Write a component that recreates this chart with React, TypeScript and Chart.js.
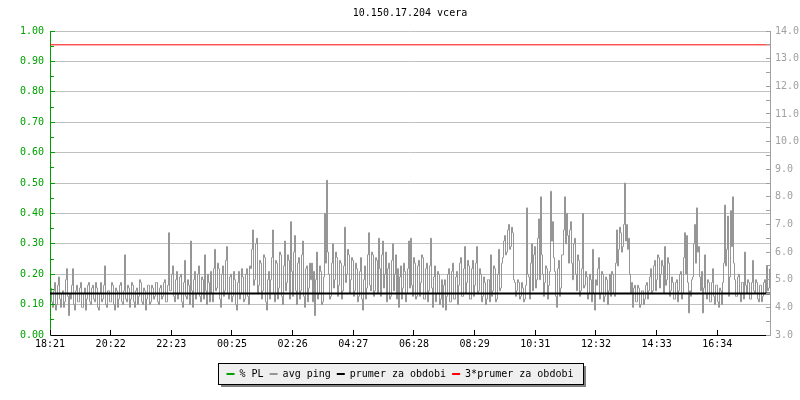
import React, { useEffect, useRef } from 'react';
import { Chart, registerables } from 'chart.js';

Chart.register(...registerables);

const MONO = '"DejaVu Sans Mono", monospace';
const GREEN = '#00a000';
const GREY = '#a0a0a0';
const GRID = '#c0c0c0';

const chartTitle = '10.150.17.204 vcera';
const timeLabels = ['18:21', '20:22', '22:23', '00:25', '02:26', '04:27', '06:28', '08:29', '10:31', '12:32', '14:33', '16:34'];
const tickStepMinutes = 121.33;
const spanMinutes = 1440;
const sampleMinutes = 2;
const seriesNames = ['% PL', 'avg ping', 'prumer za obdobi', '3*prumer za obdobi'];
const seriesColors = ['#00a000', '#969696', '#000000', '#ff0000'];

// avg ping (ms), one value every 2 minutes from 18:21
const pingValues = [
  4.7, 4.2, 4.0, 4.6, 4.9, 3.9, 4.1, 4.8, 5.1, 4.3, 4.0, 4.5, 4.6, 4.0, 4.2, 5.0, 5.4, 4.4, 3.7, 4.5,
  4.3, 4.8, 5.4, 4.1, 3.9, 4.6, 4.8, 4.2, 4.2, 4.7, 4.9, 4.0, 4.0, 4.5, 4.7, 3.9, 4.3, 4.8, 4.9, 4.2,
  4.1, 4.7, 4.8, 4.3, 4.2, 4.9, 4.7, 4.0, 3.9, 4.5, 4.9, 4.2, 4.3, 4.8, 5.5, 4.1, 4.0, 4.6, 4.6, 4.2,
  4.2, 4.9, 4.8, 4.1, 3.9, 4.7, 4.6, 4.0, 4.3, 4.8, 4.9, 4.2, 4.1, 4.6, 5.9, 4.3, 4.2, 4.8, 4.7, 4.0,
  4.3, 4.9, 4.8, 4.2, 4.0, 4.6, 4.7, 4.1, 4.4, 5.0, 4.9, 4.2, 4.1, 4.7, 4.6, 3.9, 4.3, 4.8, 4.8, 4.1,
  4.2, 4.8, 4.7, 4.3, 4.4, 4.9, 4.9, 4.2, 4.1, 4.7, 4.8, 4.3, 4.4, 4.9, 5.0, 4.2, 4.2, 4.8, 6.7, 4.6,
  4.6, 5.2, 5.5, 4.4, 4.2, 5.0, 5.3, 4.3, 4.5, 5.1, 5.2, 4.2, 4.0, 4.9, 5.7, 4.4, 4.3, 5.0, 4.8, 4.1,
  6.4, 4.6, 4.0, 5.0, 5.3, 4.3, 4.5, 5.2, 5.5, 4.4, 4.2, 5.1, 5.0, 4.3, 5.9, 4.6, 4.1, 5.2, 4.9, 4.2,
  5.3, 4.5, 4.2, 5.4, 6.1, 4.6, 4.7, 5.6, 5.4, 4.3, 4.0, 5.2, 5.5, 4.4, 4.6, 5.7, 6.2, 4.5, 4.3, 5.1,
  5.2, 4.2, 4.4, 5.3, 5.0, 4.1, 3.9, 4.9, 5.3, 4.3, 4.5, 5.4, 5.1, 4.2, 4.3, 5.2, 5.4, 4.4, 4.1, 5.5,
  5.4, 6.1, 6.8, 4.8, 5.0, 6.3, 6.5, 4.5, 4.8, 5.7, 5.6, 4.3, 4.6, 5.9, 5.8, 4.2, 3.9, 5.0, 5.3, 4.3,
  5.0, 5.8, 6.8, 4.5, 4.2, 5.7, 5.6, 4.3, 4.7, 6.0, 5.9, 4.4, 4.1, 5.5, 6.4, 4.6, 4.9, 5.9, 5.7, 4.3,
  7.1, 5.3, 4.4, 6.0, 6.6, 4.6, 4.1, 5.6, 5.8, 4.3, 4.6, 5.9, 6.4, 4.4, 4.0, 5.4, 5.5, 4.2, 4.7, 5.6,
  5.0, 5.6, 4.2, 5.3, 3.7, 5.0, 6.0, 4.3, 4.5, 5.5, 5.3, 4.1, 4.2, 5.1, 7.4, 5.6, 8.6, 6.0, 5.2, 4.3,
  4.4, 5.6, 6.3, 4.7, 5.0, 6.0, 5.8, 4.4, 4.8, 5.7, 5.6, 4.3, 4.6, 5.5, 6.9, 4.9, 5.2, 6.1, 5.9, 4.5,
  5.0, 5.8, 5.7, 4.4, 4.6, 5.6, 5.4, 4.2, 4.4, 5.3, 5.8, 4.3, 3.9, 5.0, 5.5, 4.3, 4.7, 5.9, 6.7, 4.8,
  4.6, 6.0, 5.9, 4.4, 4.6, 5.8, 5.7, 4.5, 6.5, 5.4, 4.4, 5.9, 6.4, 4.7, 5.2, 6.0, 4.2, 5.4, 5.6, 4.3,
  4.4, 5.7, 6.3, 4.6, 5.2, 5.9, 4.3, 5.4, 4.0, 5.1, 5.5, 4.3, 4.7, 5.6, 5.3, 4.2, 4.5, 5.4, 6.4, 4.7,
  6.5, 4.8, 4.4, 5.8, 5.6, 4.3, 4.4, 5.5, 5.7, 4.4, 4.9, 5.9, 5.8, 4.3, 4.3, 5.4, 5.6, 4.2, 4.6, 5.5,
  6.5, 4.7, 4.0, 5.1, 5.5, 4.2, 4.5, 5.3, 5.2, 4.1, 4.3, 5.0, 4.0, 4.8, 5.0, 3.9, 4.4, 5.2, 5.4, 4.2,
  4.2, 5.3, 5.6, 4.3, 4.3, 5.1, 5.3, 4.1, 4.8, 5.6, 5.8, 4.4, 4.4, 5.4, 6.2, 4.5, 4.9, 5.7, 5.5, 4.3,
  4.3, 5.4, 5.7, 4.4, 4.8, 5.6, 6.2, 4.5, 4.6, 5.4, 5.2, 4.2, 4.4, 5.1, 4.9, 4.1, 4.3, 5.0, 5.0, 4.2,
  5.9, 4.4, 4.6, 5.5, 5.4, 4.2, 4.3, 5.2, 6.1, 4.6, 4.7, 5.6, 5.8, 6.4, 6.6, 5.9, 6.0, 6.8, 7.0, 6.1,
  6.2, 6.9, 6.7, 5.0, 4.9, 4.4, 4.6, 5.0, 4.9, 4.3, 4.4, 4.9, 4.7, 4.2, 4.3, 4.8, 7.6, 5.2, 5.1, 4.3,
  5.6, 6.3, 4.6, 5.9, 6.2, 4.7, 5.0, 6.5, 7.2, 5.0, 8.0, 5.9, 5.2, 4.4, 4.9, 5.5, 5.4, 4.3, 4.8, 5.3,
  8.2, 6.4, 7.1, 5.8, 5.3, 4.4, 4.0, 5.4, 5.7, 4.4, 4.7, 5.9, 5.9, 6.8, 8.0, 6.3, 7.4, 6.6, 5.6, 6.8,
  7.1, 5.6, 5.0, 6.3, 6.5, 5.2, 4.6, 5.9, 5.7, 4.4, 4.6, 5.4, 7.4, 4.7, 4.8, 5.3, 5.1, 4.3, 4.5, 5.2,
  5.0, 4.2, 6.1, 4.5, 3.9, 5.0, 4.8, 5.4, 5.8, 4.3, 4.5, 5.3, 5.2, 4.2, 4.4, 5.1, 5.0, 4.1, 4.6, 5.2,
  4.4, 5.3, 5.2, 4.5, 4.4, 5.6, 6.8, 5.5, 6.1, 6.9, 6.7, 6.0, 6.2, 7.0, 8.5, 6.4, 7.0, 6.1, 6.5, 5.2,
  4.5, 4.9, 4.0, 4.7, 4.8, 4.2, 4.2, 4.8, 4.7, 4.0, 4.1, 4.6, 4.6, 4.1, 4.3, 4.8, 4.9, 4.3, 4.6, 5.1,
  5.4, 4.5, 4.6, 5.5, 5.7, 4.6, 5.0, 5.9, 5.8, 4.7, 5.2, 5.7, 5.5, 4.5, 6.2, 4.8, 5.0, 5.8, 5.6, 4.4,
  4.6, 5.1, 4.9, 4.3, 4.3, 4.9, 5.0, 4.2, 4.6, 5.2, 5.3, 4.3, 4.5, 5.8, 6.7, 5.2, 6.6, 4.9, 3.8, 4.6,
  4.4, 5.0, 5.1, 6.3, 7.0, 5.6, 7.6, 6.0, 6.2, 5.1, 4.6, 5.3, 3.8, 4.7, 5.9, 4.5, 4.3, 5.0, 4.9, 4.2,
  4.2, 4.9, 5.4, 4.4, 4.1, 4.8, 4.8, 4.2, 4.0, 4.7, 4.6, 4.1, 4.9, 5.6, 7.7, 5.5, 6.1, 7.3, 4.4, 5.1,
  7.5, 6.2, 8.0, 5.6, 5.0, 4.4, 4.4, 5.1, 5.2, 4.5, 4.2, 4.9, 4.9, 4.3, 6.0, 4.8, 4.5, 5.0, 4.9, 4.3,
  4.3, 4.9, 5.7, 4.6, 4.5, 5.0, 4.9, 4.3, 4.2, 4.8, 4.8, 4.2, 4.4, 4.9, 5.0, 4.5, 5.5, 4.6, 4.7, 5.4,
];
const plValues: number[] = [];
const meanValues = [4.5, 4.5];
const tripleMeanValues = [13.5, 13.5];
const plAxisRange = [0, 1];
const pingAxisRange = [3, 14];

const alignPx = (p: number) => Math.round(p - 0.5) + 0.5;

const axisMarks = {
  id: 'axisMarks',
  afterDatasetsDraw(chart: any) {
    const { ctx, chartArea } = chart;
    const { left, right, bottom } = chartArea;
    ctx.save();
    ctx.lineWidth = 1;
    const yl = chart.scales.y;
    ctx.strokeStyle = GREEN;
    ctx.beginPath();
    for (let k = 1; k <= 20; k++) {
      const y = alignPx(yl.getPixelForValue(k * 0.05));
      const len = k % 2 === 0 ? 5 : 4;
      ctx.moveTo(left, y);
      ctx.lineTo(left + len, y);
    }
    ctx.stroke();
    const yr = chart.scales.yPing;
    ctx.strokeStyle = GREY;
    ctx.beginPath();
    for (let v = pingAxisRange[0]; v <= pingAxisRange[1]; v += 0.5) {
      const y = alignPx(yr.getPixelForValue(v));
      ctx.moveTo(right - 4, y);
      ctx.lineTo(right, y);
    }
    ctx.stroke();
    const xs = chart.scales.x;
    ctx.strokeStyle = '#000';
    ctx.beginPath();
    timeLabels.forEach((_, k) => {
      const x = alignPx(xs.getPixelForValue(k * tickStepMinutes));
      ctx.moveTo(x, bottom);
      ctx.lineTo(x, bottom - 5);
    });
    ctx.stroke();
    ctx.restore();
  },
};

const legendFrame = {
  id: 'legendFrame',
  beforeDraw(chart: any) {
    const lg = chart.legend;
    if (!lg || !lg.legendHitBoxes || !lg.legendHitBoxes.length) return;
    const hb = lg.legendHitBoxes;
    const l = Math.round(Math.min(...hb.map((h: any) => h.left)) - 9);
    const r = Math.round(Math.max(...hb.map((h: any) => h.left + h.width)) + 10);
    const cy = hb[0].top + hb[0].height / 2;
    const t = Math.round(cy - 11);
    const b = Math.round(cy + 10);
    const { ctx } = chart;
    ctx.save();
    ctx.fillStyle = '#808080';
    ctx.fillRect(l + 3, t + 3, r - l, b - t);
    ctx.fillStyle = '#efefef';
    ctx.fillRect(l, t, r - l, b - t);
    ctx.strokeStyle = '#000';
    ctx.lineWidth = 1;
    ctx.strokeRect(l + 0.5, t + 0.5, r - l, b - t);
    ctx.restore();
  },
};

export default function App() {
  const canvasRef = useRef<HTMLCanvasElement | null>(null);

  useEffect(() => {
    if (!canvasRef.current) return;
    const font = { family: MONO, size: 10, weight: 'normal' as const };
    const tickPositions = timeLabels.map((_, k) => k * tickStepMinutes);
    const pingData = pingValues.map((v, i) => ({ x: (i + 0.5) * sampleMinutes, y: v }));
    const meanData = meanValues.map((v, i) => ({ x: i === 0 ? 0 : spanMinutes, y: v }));
    const tripleData = tripleMeanValues.map((v, i) => ({ x: i === 0 ? 0 : spanMinutes, y: v }));
    const plData = plValues.map((v, i) => ({ x: i * sampleMinutes, y: v }));

    const chart = new Chart(canvasRef.current, {
      type: 'line',
      data: {
        datasets: [
          { label: seriesNames[0], data: plData, yAxisID: 'y', borderColor: seriesColors[0], backgroundColor: seriesColors[0], borderWidth: 1, pointRadius: 0, order: 2 },
          { label: seriesNames[1], data: pingData, yAxisID: 'yPing', borderColor: seriesColors[1], backgroundColor: seriesColors[1], borderWidth: 1, pointRadius: 0, stepped: 'before', order: 3 },
          { label: seriesNames[2], data: meanData, yAxisID: 'yPing', borderColor: seriesColors[2], backgroundColor: seriesColors[2], borderWidth: 2, pointRadius: 0, order: 1 },
          { label: seriesNames[3], data: tripleData, yAxisID: 'yPing', borderColor: seriesColors[3], backgroundColor: seriesColors[3], borderWidth: 1, pointRadius: 0, order: 0 },
        ],
      },
      options: {
        animation: false,
        responsive: false,
        devicePixelRatio: 1,
        events: [],
        layout: { padding: { left: 0, right: 0, top: 0, bottom: 11 } },
        plugins: {
          title: {
            display: true,
            fullSize: false,
            text: chartTitle,
            color: '#000',
            font,
            padding: { top: 7, bottom: 12 },
          },
          legend: {
            display: true,
            position: 'bottom',
            maxHeight: 30,
            labels: {
              font,
              color: '#000',
              boxWidth: 8,
              boxHeight: 2,
              padding: 6,
              sort: (a: any, b: any) => a.datasetIndex - b.datasetIndex,
              generateLabels: (c: any) =>
                c.data.datasets.map((ds: any, i: number) => ({
                  text: ds.label,
                  fillStyle: ds.borderColor,
                  strokeStyle: ds.borderColor,
                  lineWidth: 0,
                  hidden: false,
                  datasetIndex: i,
                  fontColor: '#000',
                })),
            },
          },
          tooltip: { enabled: false },
        },
        scales: {
          x: {
            type: 'linear',
            min: 0,
            max: spanMinutes,
            position: 'bottom',
            grid: { drawOnChartArea: false, drawTicks: false },
            border: { display: true, color: '#000', width: 1 },
            afterBuildTicks: (s: any) => {
              s.ticks = tickPositions.map((v) => ({ value: v }));
            },
            afterFit: (s: any) => {
              s.height = 28;
            },
            ticks: {
              autoSkip: false,
              maxRotation: 0,
              padding: 3,
              color: '#000',
              font,
              callback: (_v: any, i: number) => timeLabels[i],
            },
          },
          y: {
            type: 'linear',
            position: 'left',
            min: plAxisRange[0],
            max: plAxisRange[1],
            afterBuildTicks: (s: any) => {
              const t = [];
              for (let k = 0; k <= 10; k++) t.push({ value: k / 10 });
              s.ticks = t;
            },
            afterFit: (s: any) => {
              s.width = 50;
            },
            ticks: {
              color: GREEN,
              font,
              padding: 6,
              callback: (v: any) => Number(v).toFixed(2),
            },
            grid: {
              drawTicks: false,
              lineWidth: 1,
              color: (ctx: any) => (ctx.tick && ctx.tick.value === 0 ? 'rgba(0,0,0,0)' : GRID),
            },
            border: { display: true, color: GREEN, width: 1 },
          },
          yPing: {
            type: 'linear',
            position: 'right',
            min: pingAxisRange[0],
            max: pingAxisRange[1],
            afterBuildTicks: (s: any) => {
              const t = [];
              for (let v = pingAxisRange[0]; v <= pingAxisRange[1]; v++) t.push({ value: v });
              s.ticks = t;
            },
            afterFit: (s: any) => {
              s.width = 30;
            },
            ticks: {
              color: GREY,
              font,
              padding: 5,
              callback: (v: any) => Number(v).toFixed(1),
            },
            grid: { drawOnChartArea: false, drawTicks: false },
            border: { display: true, color: GREY, width: 1 },
          },
        },
      },
      plugins: [axisMarks, legendFrame],
    } as any);

    return () => chart.destroy();
  }, []);

  return (
    <div style={{ position: 'absolute', left: 0, top: 0, width: 800, height: 400, background: '#fff' }}>
      <canvas ref={canvasRef} width={800} height={400} style={{ display: 'block' }} />
    </div>
  );
}
